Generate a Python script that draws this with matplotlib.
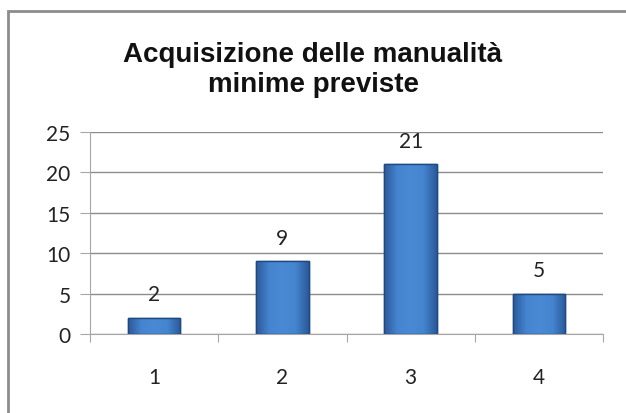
"""Acquisizione delle manualita minime previste - bar chart"""
import matplotlib.pyplot as plt
import numpy as np
from matplotlib.patches import Rectangle
from matplotlib.colors import LinearSegmentedColormap

categories = ['1', '2', '3', '4']
values = [2, 9, 21, 5]

W, H = 626, 414
fig = plt.figure(figsize=(W / 100, H / 100), dpi=100)
fig.patch.set_facecolor('white')

# outer chart frame (only left and top visible in the crop)
fig.add_artist(Rectangle((8 / W, -0.05), 1.1, (H - 12) / H + 0.05,
                         transform=fig.transFigure, fill=False,
                         edgecolor='#8c8c8c', linewidth=2))

ax = fig.add_axes([90 / W, 1 - 335 / H, (603 - 90) / W, (335 - 133) / H])

x = range(len(categories))
bars = ax.bar(x, values, width=0.41, color='#3f77bd', edgecolor='#1f4a80',
              linewidth=1.0, zorder=3)

# horizontal shading like the office bevel look
cmap = LinearSegmentedColormap.from_list(
    'bev', ['#2a5a9a', '#4585d0', '#4a8ad4', '#4585d0', '#2a5a9a'])
grad = np.linspace(0, 1, 64).reshape(1, -1)
for b in bars:
    bx, by = b.get_x(), b.get_y()
    im = ax.imshow(grad, cmap=cmap, aspect='auto', zorder=3.5,
                   extent=[bx, bx + b.get_width(), by, by + b.get_height()])
    im.set_clip_path(b)
    ax.add_patch(Rectangle((bx, by), b.get_width(), b.get_height(), fill=False,
                           edgecolor='#1f4a80', linewidth=1.0, zorder=4))

for i, v in enumerate(values):
    ax.text(i, v + 2.2, str(v), ha='center', va='baseline', fontsize=15,
            family='Lato', color='#222222')

ax.set_xlim(-0.5, 3.5)
ax.set_ylim(0, 25)
ax.set_yticks(range(0, 26, 5))
ax.set_xticks([i + 0.5 for i in range(-1, 4)], minor=False)
ax.set_xticklabels([])
ax.set_xticks(list(x), minor=True)
ax.set_xticklabels(categories, minor=True)
ax.tick_params(axis='x', which='major', length=6, color='#a6a6a6')
ax.tick_params(axis='x', which='minor', length=0, pad=24, labelsize=15)
ax.tick_params(axis='y', length=7, color='#a6a6a6', pad=7, labelsize=15)
for lab in ax.get_xticklabels(minor=True) + ax.get_yticklabels():
    lab.set_family('Lato')
    lab.set_color('#222222')

ax.grid(axis='y', color='#8c8c8c', linewidth=1, zorder=0)
for s in ['top', 'right']:
    ax.spines[s].set_visible(False)
ax.spines['left'].set_color('#a6a6a6')
ax.spines['bottom'].set_color('#a6a6a6')

fig.text(0.5, 1 - 70 / H, 'Acquisizione delle manualità\nminime previste',
         ha='center', va='center', fontsize=20, fontweight='bold',
         family='Liberation Sans', linespacing=1.2, color='#111111')

fig.savefig('out.png', dpi=100)
